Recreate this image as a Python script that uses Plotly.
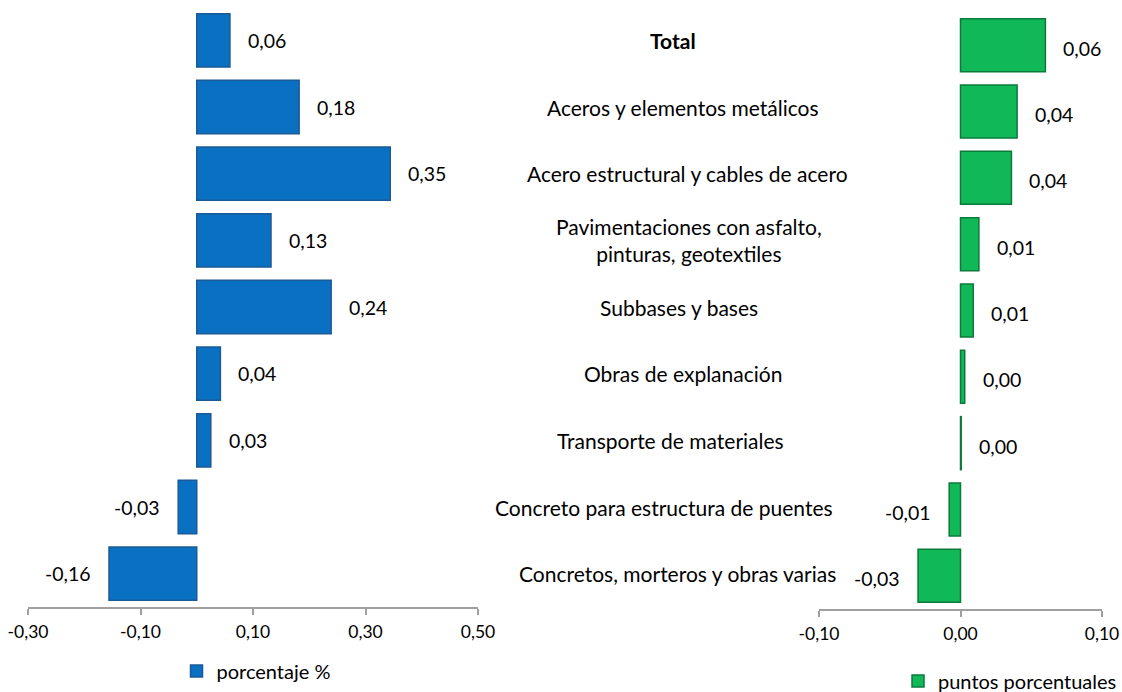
import plotly.graph_objects as go

categories = [
    "Total",
    "Aceros y elementos metálicos",
    "Acero estructural y cables de acero",
    "Pavimentaciones con asfalto,<br>pinturas, geotextiles",
    "Subbases y bases",
    "Obras de explanación",
    "Transporte de materiales",
    "Concreto para estructura de puentes",
    "Concretos, morteros y obras varias",
]
bold_first = True

porcentaje = [0.059, 0.182, 0.344, 0.132, 0.239, 0.042, 0.025, -0.033, -0.156]
porcentaje_labels = ["0,06", "0,18", "0,35", "0,13", "0,24", "0,04", "0,03", "-0,03", "-0,16"]

puntos = [0.060, 0.040, 0.036, 0.013, 0.009, 0.003, 0.0005, -0.008, -0.030]
puntos_labels = ["0,06", "0,04", "0,04", "0,01", "0,01", "0,00", "0,00", "-0,01", "-0,03"]

left_ticks = [-0.30, -0.10, 0.10, 0.30, 0.50]
left_ticktext = ["-0,30", "-0,10", "0,10", "0,30", "0,50"]
right_ticks = [-0.10, 0.00, 0.10]
right_ticktext = ["-0,10", "0,00", "0,10"]

legend_left = "porcentaje %"
legend_right = "puntos porcentuales"

# ---- layout constants (pixels) ----
W, H = 1122, 692
FONT = "Lato, 'Open Sans', sans-serif"
VAL = 19.5
CAT = 21
LEG = 20
BLUE = "#0A70C2"
BLUE_EDGE = "#1B5A96"
GREEN = "#10B858"
GREEN_EDGE = "#0B7A3B"
AXIS_GRAY = "#A0A0A0"

def px_x(p):
    return p / W

def px_y(p):
    return 1 - p / H

# label centres for category texts (pixels)
label_cx = [673, 683, 687, 689, 679, 683, 670, 664, 677]

fig = go.Figure()

fig.add_trace(go.Bar(
    x=porcentaje, y=categories, orientation="h",
    marker=dict(color=BLUE, line=dict(color=BLUE_EDGE, width=1.5)),
    width=0.8, xaxis="x", yaxis="y", name=legend_left,
    legend="legend", showlegend=True, hoverinfo="skip",
))
fig.add_trace(go.Bar(
    x=puntos, y=categories, orientation="h",
    marker=dict(color=GREEN, line=dict(color=GREEN_EDGE, width=1.5)),
    width=0.8, xaxis="x2", yaxis="y2", name=legend_right,
    legend="legend2", showlegend=True, hoverinfo="skip",
))

annotations = []
for i, (v, t) in enumerate(zip(porcentaje, porcentaje_labels)):
    annotations.append(dict(
        x=v, y=categories[i], xref="x", yref="y", text=t, showarrow=False,
        xanchor="left" if v >= 0 else "right",
        xshift=16 if v >= 0 else -16,
        font=dict(family=FONT, size=VAL, color="#000"),
    ))
for i, (v, t) in enumerate(zip(puntos, puntos_labels)):
    annotations.append(dict(
        x=v, y=categories[i], xref="x2", yref="y2", text=t, showarrow=False,
        xanchor="left" if v >= 0 else "right",
        xshift=16 if v >= 0 else -16, yshift=-3,
        font=dict(family=FONT, size=VAL, color="#000"),
    ))
for i, c in enumerate(categories):
    txt = "<b>" + c + "</b>" if (i == 0 and bold_first) else c
    annotations.append(dict(
        x=px_x(label_cx[i]), y=c, xref="paper", yref="y", text=txt,
        showarrow=False, xanchor="center", align="center",
        font=dict(family=FONT, size=CAT, color="#000"),
    ))

xaxis_common = dict(
    showgrid=False, zeroline=False, showline=True, linecolor=AXIS_GRAY,
    linewidth=2, ticks="outside", ticklen=6, tickwidth=2, tickcolor=AXIS_GRAY,
    tickfont=dict(family=FONT, size=17.5, color="#000"), ticklabelstandoff=2,
    fixedrange=True,
)
yaxis_common = dict(
    showgrid=False, zeroline=False, showline=False, showticklabels=False,
    ticks="", range=[8.5, -0.5], fixedrange=True,
)

fig.update_layout(
    width=W, height=H,
    margin=dict(l=0, r=0, t=0, b=0, autoexpand=False),
    paper_bgcolor="white", plot_bgcolor="white",
    font=dict(family=FONT, size=VAL, color="#000"),
    bargap=0.2,
    xaxis=dict(domain=[px_x(28), px_x(478)], range=[-0.30, 0.50],
               tickvals=left_ticks, ticktext=left_ticktext, anchor="y",
               **xaxis_common),
    yaxis=dict(domain=[px_y(607), px_y(7)], anchor="x", **yaxis_common),
    xaxis2=dict(domain=[px_x(819), px_x(1102)], range=[-0.10, 0.10],
                tickvals=right_ticks, ticktext=right_ticktext, anchor="y2",
                **xaxis_common),
    yaxis2=dict(domain=[px_y(609), px_y(12)], anchor="x2", **yaxis_common),
    legend=dict(x=px_x(256), y=px_y(671), xanchor="center", yanchor="middle",
                orientation="h", itemwidth=30, bgcolor="rgba(0,0,0,0)",
                font=dict(family=FONT, size=LEG, color="#000")),
    legend2=dict(x=px_x(1010), y=px_y(681), xanchor="center", yanchor="middle",
                 orientation="h", itemwidth=30, bgcolor="rgba(0,0,0,0)",
                 font=dict(family=FONT, size=LEG, color="#000")),
    annotations=annotations,
)

fig.write_html(
    "out.html",
    config={"displayModeBar": False, "staticPlot": True},
    post_script="document.body.style.margin='0';document.body.style.overflow='hidden';",
)
